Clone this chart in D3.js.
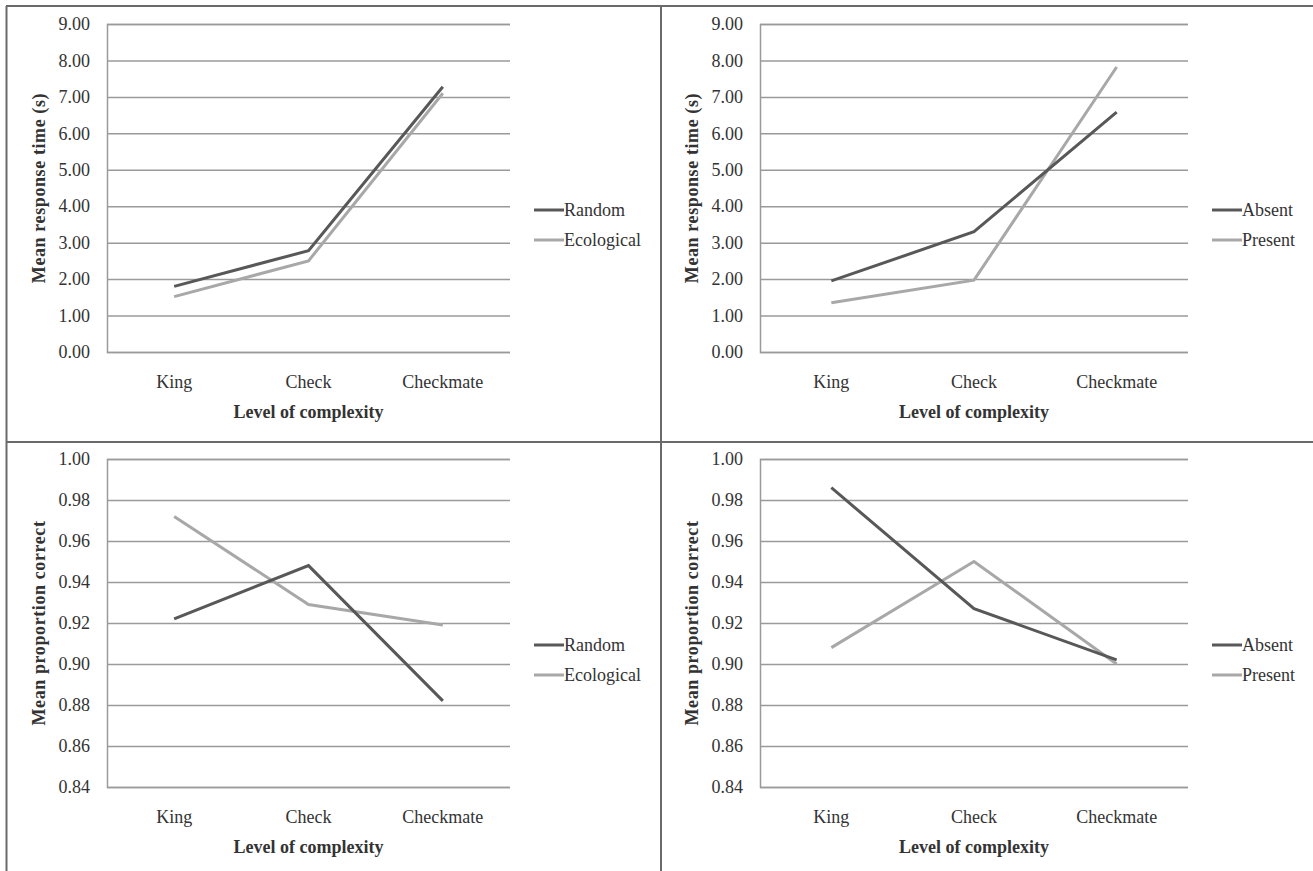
<!DOCTYPE html>
<html>
<head>
<meta charset="utf-8">
<script src="https://cdn.jsdelivr.net/npm/d3@7"></script>
<style>
  body { margin: 0; background: #fff; }
  svg text { font-family: "Liberation Serif", "Times New Roman", serif; fill: #333; }
</style>
</head>
<body>
<div id="chart"></div>
<script>
"use strict";

// categories on the x axis
const categories = ["King", "Check", "Checkmate"];

// mean response time (s)
const rtRandom = [1.80, 2.78, 7.28];
const rtEcological = [1.52, 2.50, 7.10];
const rtAbsent = [1.95, 3.30, 6.58];
const rtPresent = [1.35, 1.97, 7.82];

// mean proportion correct
const pcRandom = [0.922, 0.948, 0.882];
const pcEcological = [0.972, 0.929, 0.919];
const pcAbsent = [0.986, 0.927, 0.902];
const pcPresent = [0.908, 0.950, 0.900];

// tick values
const rtTicks = [0, 1, 2, 3, 4, 5, 6, 7, 8, 9];
const pcTicks = [0.84, 0.86, 0.88, 0.90, 0.92, 0.94, 0.96, 0.98, 1.00];

const W = 1313, H = 871;
const darkColor = "#585858";
const lightColor = "#a8a8a8";
const gridColor = "#9a9a9a";
const fontSize = 18;
const serif = '"Liberation Serif", "Times New Roman", serif';

const svg = d3.select("#chart").append("svg")
    .attr("width", W)
    .attr("height", H);

// panel frame lines
const frame = [
    [6, 6, W, 6],
    [6.5, 6, 6.5, H],
    [661, 6, 661, H],
    [6, 442, W, 442]
];
svg.selectAll(".frame").data(frame).enter().append("line")
    .attr("x1", d => d[0]).attr("y1", d => d[1])
    .attr("x2", d => d[2]).attr("y2", d => d[3])
    .attr("stroke", "#6a6a6a")
    .attr("stroke-width", 2);

const panels = [
    { left: 107, right: 510, top: 24, bottom: 352, ticks: rtTicks, yTitle: "Mean response time  (s)",
      series: [{ name: "Random", values: rtRandom, color: darkColor }, { name: "Ecological", values: rtEcological, color: lightColor }] },
    { left: 760, right: 1188, top: 24, bottom: 352, ticks: rtTicks, yTitle: "Mean response time  (s)",
      series: [{ name: "Absent", values: rtAbsent, color: darkColor }, { name: "Present", values: rtPresent, color: lightColor }] },
    { left: 107, right: 510, top: 459, bottom: 787, ticks: pcTicks, yTitle: "Mean proportion correct",
      series: [{ name: "Random", values: pcRandom, color: darkColor }, { name: "Ecological", values: pcEcological, color: lightColor }] },
    { left: 760, right: 1188, top: 459, bottom: 787, ticks: pcTicks, yTitle: "Mean proportion correct",
      series: [{ name: "Absent", values: pcAbsent, color: darkColor }, { name: "Present", values: pcPresent, color: lightColor }] }
];

panels.forEach(drawPanel);

function drawPanel(p) {
    let g = svg.append("g");
    let width = p.right - p.left;

    let xScale = d3.scaleBand()
        .domain(categories)
        .range([p.left, p.right]);

    let yScale = d3.scaleLinear()
        .domain([p.ticks[0], p.ticks[p.ticks.length - 1]])
        .range([p.bottom, p.top]);

    // y axis with gridlines
    let yAxis = d3.axisLeft(yScale)
        .tickValues(p.ticks)
        .tickSize(-width)
        .tickPadding(17)
        .tickFormat(d3.format(".2f"));
    let yg = g.append("g")
        .attr("transform", "translate(" + p.left + ",0)")
        .call(yAxis)
        .attr("font-family", serif)
        .attr("font-size", fontSize);
    yg.select(".domain").attr("stroke", gridColor).attr("stroke-width", 1.5);
    yg.selectAll(".tick line").attr("stroke", gridColor).attr("stroke-width", 1.5);
    yg.selectAll(".tick text")
        .style("font-family", serif)
        .style("font-size", fontSize + "px")
        .attr("fill", "#333");

    // x axis labels
    let xAxis = d3.axisBottom(xScale).tickSize(0).tickPadding(23);
    let xg = g.append("g")
        .attr("transform", "translate(0," + p.bottom + ")")
        .call(xAxis)
        .attr("font-family", serif)
        .attr("font-size", fontSize);
    xg.select(".domain").remove();
    xg.selectAll(".tick text")
        .style("font-family", serif)
        .style("font-size", fontSize + "px")
        .attr("fill", "#333");

    // axis titles
    g.append("text")
        .attr("x", (p.left + p.right) / 2)
        .attr("y", p.bottom + 66)
        .attr("text-anchor", "middle")
        .style("font-size", fontSize + "px")
        .style("font-weight", "bold")
        .text("Level of complexity");

    g.append("text")
        .attr("transform", "translate(" + (p.left - 62) + "," + ((p.top + p.bottom) / 2) + ") rotate(-90)")
        .attr("text-anchor", "middle")
        .style("font-size", fontSize + "px")
        .style("font-weight", "bold")
        .style("letter-spacing", "0.6px")
        .text(p.yTitle);

    // series lines
    let line = d3.line()
        .x((d, i) => xScale(categories[i]) + xScale.bandwidth() / 2)
        .y(d => yScale(d));

    p.series.slice().reverse().forEach(s => {
        g.append("path")
            .datum(s.values)
            .attr("fill", "none")
            .attr("stroke", s.color)
            .attr("stroke-width", 3)
            .attr("d", line);
    });

    // legend
    p.series.forEach((s, i) => {
        let ly = p.top + 186 + i * 30;
        g.append("line")
            .attr("x1", p.right + 24).attr("x2", p.right + 54)
            .attr("y1", ly).attr("y2", ly)
            .attr("stroke", s.color)
            .attr("stroke-width", 3);
        g.append("text")
            .attr("x", p.right + 54)
            .attr("y", ly)
            .attr("dy", "0.35em")
            .style("font-size", fontSize + "px")
            .text(s.name);
    });
}
</script>
</body>
</html>
